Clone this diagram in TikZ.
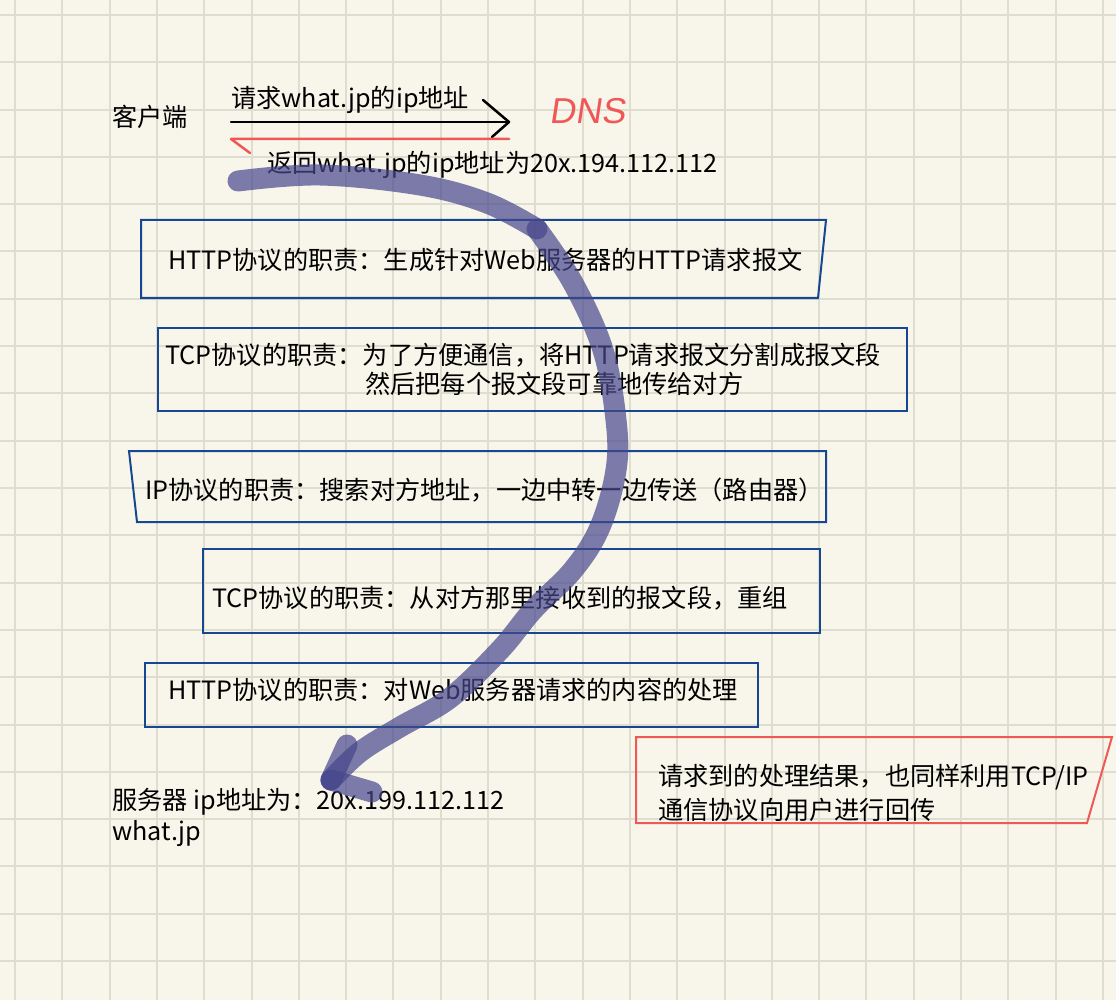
\documentclass[tikz,border=0pt]{standalone}
\usepackage{fontspec}
\setmainfont{Noto Sans CJK SC}
\newfontfamily\handfont[FakeSlant=0.15]{Liberation Sans}
\usetikzlibrary{calc}
\definecolor{paper}{RGB}{248,246,234}
\definecolor{gridgrey}{RGB}{222,221,208}
\definecolor{boxblue}{RGB}{22,72,145}
\definecolor{notered}{RGB}{240,88,88}
\definecolor{penpurple}{RGB}{70,70,140}
\tikzset{
	gridline/.style={line width=2pt, color=gridgrey},
	layerbox/.style={line width=2pt, color=boxblue},
	notebox/.style={line width=2pt, color=notered},
	txt/.style={anchor=west, inner sep=0pt, font=\fontsize{25.2}{30}\selectfont},
	pen/.style={line width=21pt, color=penpurple, opacity=0.7, line cap=round, line join=round}
}

\begin{document}
\begin{tikzpicture}[x=1pt, y=-1pt]
		%%%%% START %%%%%
		
		\fill[paper] (0, 0) rectangle (1116, 1000);
		\useasboundingbox (0, 0) rectangle (1116, 1000);
		\foreach \i in {0,...,23}
			\draw[gridline] ({15+47.3*\i}, 0) -- ({15+47.3*\i}, 1000);
		\foreach \i in {0,...,20}
			\draw[gridline] (0, {15+47.3*\i}) -- (1116, {15+47.3*\i});
		
		% client and DNS
		\node[txt] (client) at (112, 117) {客户端};
		\node[txt] (ask) at (231, 100) {请求what.jp的ip地址};
		\node[txt, font=\handfont\fontsize{36}{36}\selectfont, color=notered] (dns) at (549, 111) {DNS};
		\node[txt] (answer) at (267, 165) {返回what.jp的ip地址为20x.194.112.112};
		
		\coordinate (askA) at (231, 122);
		\coordinate (askB) at (509, 122);
		\draw[line width=2.5pt, line cap=round] (askA) -- (askB);
		\draw[line width=2.5pt, line cap=round, line join=round] (483, 100) -- (askB) -- (492, 137);
		
		\coordinate (backA) at (509, 139);
		\coordinate (backB) at (231, 139);
		\draw[line width=2.5pt, color=notered, line cap=round, line join=round] (backA) -- (backB) -- (250, 153);
		
		% protocol layers
		\draw[layerbox] (141, 220) -- (826, 220) -- (818, 298) -- (141, 298) -- cycle;
		\node[txt] (http1) at (168, 260) {HTTP协议的职责：生成针对Web服务器的HTTP请求报文};
		
		\draw[layerbox] (158, 328) rectangle (907, 411);
		\node[txt] (tcp1a) at (165, 355) {TCP协议的职责：为了方便通信，将HTTP请求报文分割成报文段};
		\node[txt] (tcp1b) at (365, 384) {然后把每个报文段可靠地传给对方};
		
		\draw[layerbox] (129, 451) -- (826, 451) -- (826, 522) -- (137, 522) -- cycle;
		\node[txt] (ip) at (145, 490) {IP协议的职责：搜索对方地址，一边中转一边传送（路由器）};
		
		\draw[layerbox] (203, 549) rectangle (820, 633);
		\node[txt] (tcp2) at (212, 598) {TCP协议的职责：从对方那里接收到的报文段，重组};
		
		\draw[layerbox] (145, 663) rectangle (758, 727);
		\node[txt] (http2) at (168, 690) {HTTP协议的职责：对Web服务器请求的内容的处理};
		
		% server
		\node[txt] (server) at (112, 802) {服务器 ip地址为：20x.199.112.112};
		\node[txt] (host) at (112, 834) {what.jp};
		
		\draw[notebox] (636, 737) -- (1112, 737) -- (1087, 823) -- (636, 823) -- cycle;
		\node[txt] (back1) at (658, 777) {请求到的处理结果，也同样利用TCP/IP};
		\node[txt] (back2) at (658, 810) {通信协议向用户进行回传};
		
		% the pen stroke
		\coordinate (penStart) at (238, 181);
		\coordinate (penMid) at (537, 229);
		\coordinate (penTip) at (331, 780);
		\draw[pen] plot[smooth, tension=0.6] coordinates {(penStart) (320, 175) (420, 185) (487, 203) (penMid)};
		\draw[pen] plot[smooth, tension=0.6] coordinates {(penMid) (573, 283) (603, 350) (616, 420) (616, 470) (600, 527) (573, 570) (533, 610) (500, 650) (450, 698) (400, 727) (360, 752) (penTip)};
		\draw[pen] (347, 745) -- (penTip);
		\draw[pen] (penTip) -- (372, 792);
		
		%%%%% END %%%%%
	\end{tikzpicture}
\end{document}
